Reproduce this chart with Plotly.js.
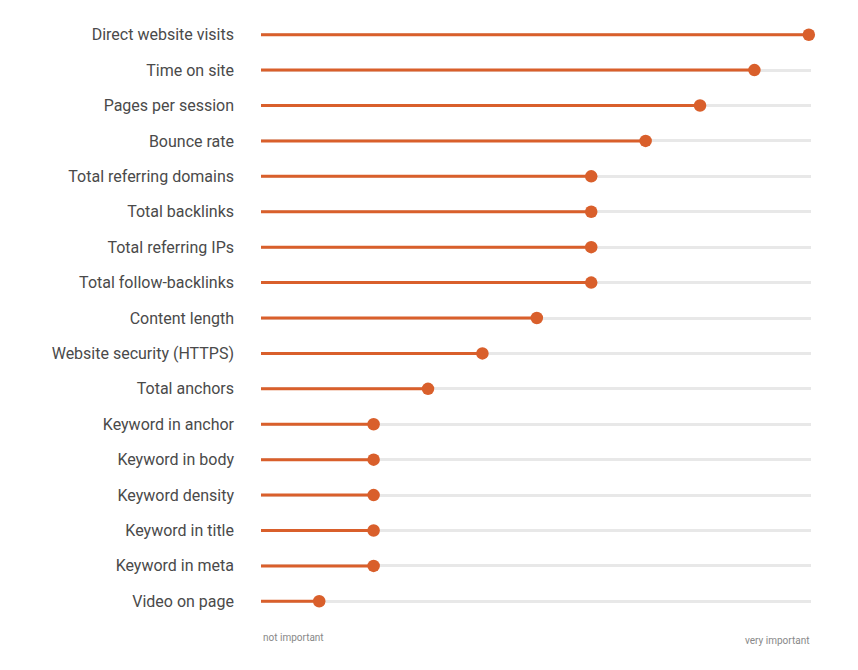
<!DOCTYPE html>
<html>
<head>
<meta charset="utf-8">
<script src="https://cdn.plot.ly/plotly-3.0.1.min.js"></script>
<style>html,body{margin:0;padding:0;background:#fff;}#chart{width:858px;height:670px;}</style>
</head>
<body>
<div id="chart"></div>
<script>
const categories = [
  "Direct website visits","Time on site","Pages per session","Bounce rate",
  "Total referring domains","Total backlinks","Total referring IPs","Total follow-backlinks",
  "Content length","Website security (HTTPS)","Total anchors","Keyword in anchor",
  "Keyword in body","Keyword density","Keyword in title","Keyword in meta","Video on page"
];
const values = [10, 9, 8, 7, 6, 6, 6, 6, 5, 4, 3, 2, 2, 2, 2, 2, 1];
const axisLabels = ["not important", "very important"];

const orange = "#d95f2b";
const xMin = -0.07, xMax = 10.04;
const stemX = [], stemY = [];
categories.forEach((c, i) => { stemX.push(xMin, values[i], null); stemY.push(c, c, null); });

const traces = [
  {x: stemX, y: stemY, type: "scatter", mode: "lines", line: {color: orange, width: 3}, hoverinfo: "skip", cliponaxis: false},
  {x: values, y: categories, type: "scatter", mode: "markers", marker: {color: orange, size: 12.5}, cliponaxis: false}
];

const layout = {
  width: 858, height: 670,
  margin: {l: 261, r: 47, t: 17, b: 51},
  paper_bgcolor: "#fff", plot_bgcolor: "#fff",
  showlegend: false,
  font: {family: "Roboto, sans-serif", color: "#444"},
  xaxis: {range: [xMin, xMax], showgrid: false, zeroline: false, showticklabels: false, showline: false, fixedrange: true},
  yaxis: {
    type: "category", categoryorder: "array", categoryarray: categories,
    range: [16.5, -0.5], showgrid: true, gridcolor: "#e8e8e8", gridwidth: 3,
    zeroline: false, showline: false, ticks: "", ticklabelstandoff: 26,
    tickfont: {family: "Roboto, sans-serif", size: 16, color: "#4a4a4a"}
  },
  annotations: [
    {text: axisLabels[0], xref: "paper", yref: "paper", x: 0, y: -0.03, xanchor: "left", yanchor: "middle", showarrow: false, font: {size: 10, color: "#888"}},
    {text: axisLabels[1], xref: "paper", yref: "paper", x: 1, y: -0.035, xanchor: "right", yanchor: "middle", showarrow: false, font: {size: 10, color: "#888"}}
  ]
};

Plotly.newPlot("chart", traces, layout, {displayModeBar: false, staticPlot: true});
</script>
</body>
</html>
